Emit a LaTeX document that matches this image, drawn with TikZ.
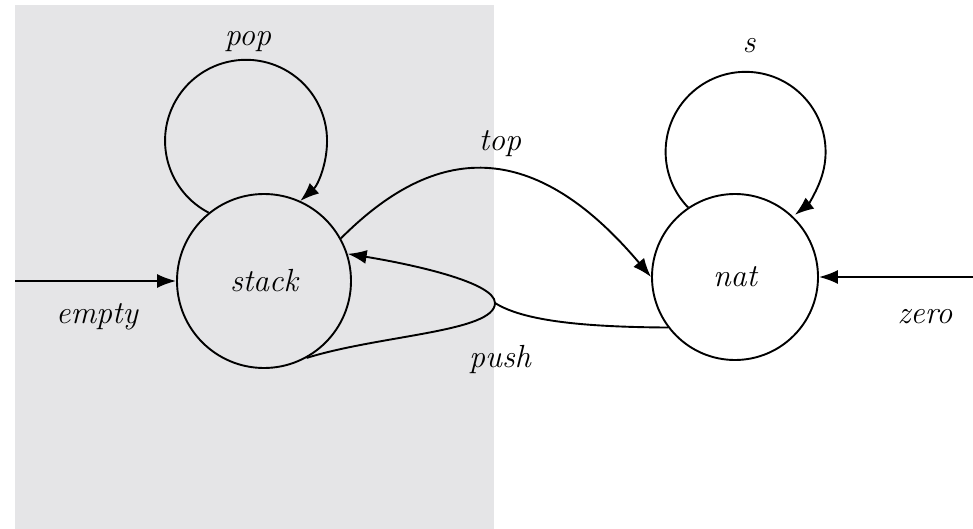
\documentclass[tikz,border=0pt]{standalone}
\usetikzlibrary{arrows.meta}
\definecolor{bg}{RGB}{229,229,231}
\begin{document}
\begin{tikzpicture}[x=1pt,y=1pt,
  state/.style={circle, draw, line width=1.9pt, inner sep=0pt,
    font=\fontsize{32}{38}\selectfont\itshape},
  lbl/.style={font=\fontsize{32}{38}\selectfont\itshape, anchor=base, inner sep=0pt},
  edge/.style={line width=1.9pt},
  arr/.style={edge, -{Latex[length=19pt,width=14pt]}}]
\useasboundingbox (0,0) rectangle (973,-529);
\fill[bg] (15,-5) rectangle (494,-529);
\node[state, minimum size=174pt] (stack) at (264,-281) {stack};
\node[state, minimum size=166pt] (nat) at (735,-277) {nat};
% loops
\draw[arr] (stack.129) arc[start angle=242.5, end angle=-48, radius=81];
\draw[arr] (nat.124) arc[start angle=224, end angle=-52, radius=80];
% initial arrows
\coordinate (e0) at (15,-281);
\coordinate (z0) at (973,-277);
\draw[arr] (e0) -- (stack.west);
\draw[arr] (z0) -- (nat.east);
% top
\draw[arr] (stack.29) .. controls (429,-150) and (527,-130) .. (nat.180);
% push
\coordinate (tip) at (495,-303);
\draw[edge] (nat.217) .. controls (590,-327) and (525,-322) .. (tip);
\draw[arr] (stack.-61) .. controls (380,-335) and (495,-332) .. (tip)
  .. controls (495,-282) and (410,-264) .. (stack.18);
% labels
\node[lbl] (poplbl) at (248,-46) {pop};
\node[lbl] (slbl) at (749,-53) {s};
\node[lbl] (toplbl) at (500,-151) {top};
\node[lbl] (pushlbl) at (500,-367) {push};
\node[lbl] (emptylbl) at (97,-323) {empty};
\node[lbl] (zerolbl) at (925,-323) {zero};
\end{tikzpicture}
\end{document}
